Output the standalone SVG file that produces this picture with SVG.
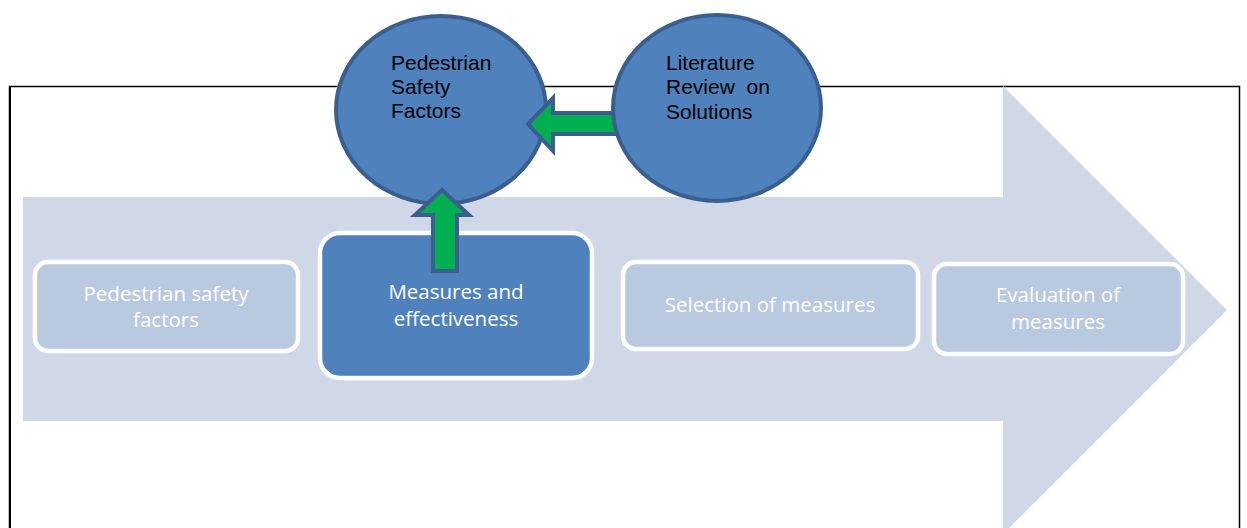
<svg xmlns="http://www.w3.org/2000/svg" width="1247" height="528" viewBox="0 0 1247 528">
<style>
.frame{fill:none;stroke:#000;stroke-width:1.5}
.band{fill:#D0D8E8}
.box{fill:#B9C9E0;stroke:#fff;stroke-width:4.5}
.boxd{fill:#4F81BD;stroke:#fff;stroke-width:4.5}
.bt{font-family:"Open Sans","Liberation Sans",sans-serif;font-size:20.5px;fill:#fff;text-anchor:middle}
.circ{fill:#4F81BD;stroke:#3A5F8F;stroke-width:4}
.ct{font-family:"Liberation Sans",Arial,sans-serif;font-size:21px;fill:#000}
.garrow{fill:#00B050;stroke:#3A5F8F;stroke-width:4;stroke-linejoin:miter}
</style>
<rect width="1247" height="528" fill="#fff"/>
<path class="frame" d="M9.5,540 V86.5 H1239.5 V540"/>
<line x1="10.5" y1="87" x2="10.5" y2="528" stroke="#000" stroke-width="1"/>
<g id="process-arrow">
<path class="band" d="M23,197 H1003 V86 L1227,310 L1003,534 V421 H23 Z"/>
</g>
<g id="step1">
<rect class="box" x="35" y="262" width="263" height="89" rx="13"/>
<text class="bt" x="166" y="301">Pedestrian safety</text>
<text class="bt" x="166" y="327">factors</text>
</g>
<g id="step2">
<rect class="boxd" x="320" y="233" width="272" height="145" rx="20"/>
<text class="bt" x="456" y="299">Measures and</text>
<text class="bt" x="456" y="326">effectiveness</text>
</g>
<g id="step3">
<rect class="box" x="623" y="262" width="295" height="87" rx="13"/>
<text class="bt" x="770" y="312">Selection of measures</text>
</g>
<g id="step4">
<rect class="box" x="934" y="264" width="249" height="90" rx="13"/>
<text class="bt" x="1058" y="302">Evaluation of</text>
<text class="bt" x="1058" y="329">measures</text>
</g>
<g id="pedestrian-safety-factors">
<ellipse class="circ" cx="441" cy="110" rx="105" ry="94"/>
<text class="ct" x="391" y="70">Pedestrian</text>
<text class="ct" x="391" y="94">Safety</text>
<text class="ct" x="391" y="118">Factors</text>
</g>
<g id="connectors">
<path class="garrow" d="M433,271 V215 H415 L442,190 L469,215 H457 V271 Z"/>
<path class="garrow" d="M625,113 H553 V98 L528,124 L553,151 V134 H625 Z"/>
</g>
<g id="literature-review">
<ellipse class="circ" cx="717" cy="108" rx="104" ry="93"/>
<text class="ct" x="666" y="70">Literature</text>
<text class="ct" x="666" y="94" xml:space="preserve">Review  on</text>
<text class="ct" x="666" y="119">Solutions</text>
</g>
</svg>
